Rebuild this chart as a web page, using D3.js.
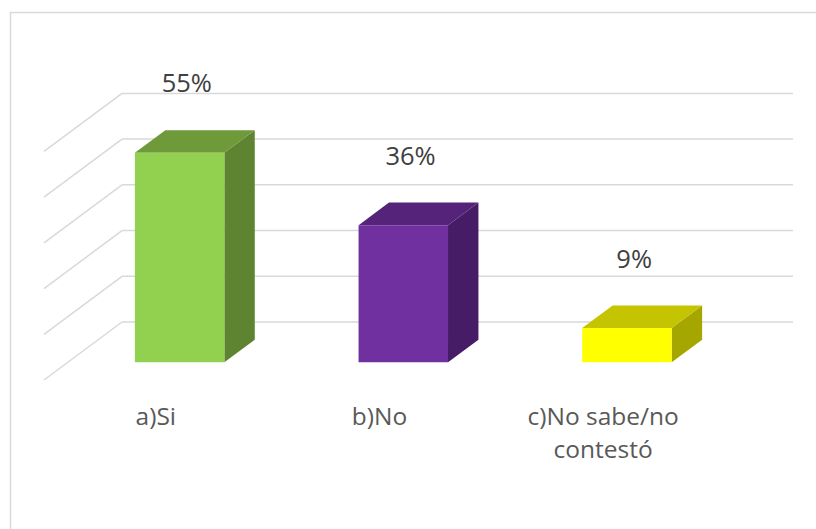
<!DOCTYPE html>
<html>
<head>
<meta charset="utf-8">
<script src="https://cdn.jsdelivr.net/npm/d3@7"></script>
<style>
  html, body { margin: 0; padding: 0; background: #fff; }
  svg { display: block; font-family: "Open Sans", "Noto Sans", sans-serif; }
</style>
</head>
<body>
<svg id="chart" width="816" height="529"></svg>
<script>
const CATEGORIES = ["a)Si", "b)No", "c)No sabe/no contestó"];
const VALUES = [0.55, 0.36, 0.09];
const GRID_TICKS = [0, 0.12, 0.24, 0.36, 0.48, 0.6];

const FRONT_COLORS = ["#92d050", "#7030a0", "#ffff00"];
const TOP_COLORS = ["#6e9a3a", "#55237a", "#c4c400"];
const SIDE_COLORS = ["#5e8431", "#471c66", "#a6a600"];

const svg = d3.select("#chart");

// oblique 3d frame: front-left corner of the floor and the depth vector
const floorX = 44;
const floorY = 380;
const floorWidth = 671;
const depth = { x: 78, y: -58 };
const barFront = 0.305;
const barDepth = 0.39;

const x = d3.scaleBand().domain(CATEGORIES).range([0, floorWidth]).paddingInner(0.6).paddingOuter(0.3);
const h = d3.scaleLinear().domain([0, 0.6]).range([0, 228.6]);
const fmt = d3.format(".0%");

// project (x along floor, value, depth fraction) to screen
function pt(px, v, d) {
  return [floorX + px + d * depth.x, floorY - h(v) + d * depth.y];
}

// chart border (right and bottom fall outside the picture)
svg.append("rect")
  .attr("x", 10.5).attr("y", 12.5)
  .attr("width", 900).attr("height", 600)
  .attr("fill", "none").attr("stroke", "#d9d9d9").attr("stroke-width", 1.5);

const grid = svg.append("g").attr("stroke", "#d9d9d9").attr("stroke-width", 1.5).attr("fill", "none");
GRID_TICKS.forEach((t) => {
  grid.append("line")
    .attr("x1", pt(0, t, 0)[0]).attr("y1", pt(0, t, 0)[1])
    .attr("x2", pt(0, t, 1)[0]).attr("y2", pt(0, t, 1)[1]);
  grid.append("line")
    .attr("x1", pt(0, t, 1)[0]).attr("y1", pt(0, t, 1)[1])
    .attr("x2", pt(floorWidth, t, 1)[0]).attr("y2", pt(floorWidth, t, 1)[1]);
});

const poly = (pts) => pts.map((p) => p.join(",")).join(" ");

const bars = svg.append("g");
CATEGORIES.forEach((c, i) => {
  const x0 = x(c);
  const x1 = x0 + x.bandwidth();
  const v = VALUES[i];
  const d0 = barFront;
  const d1 = barFront + barDepth;
  const g = bars.append("g");
  // right side
  g.append("polygon")
    .attr("points", poly([pt(x1, 0, d0), pt(x1, 0, d1), pt(x1, v, d1), pt(x1, v, d0)]))
    .attr("fill", SIDE_COLORS[i]);
  // top
  g.append("polygon")
    .attr("points", poly([pt(x0, v, d0), pt(x1, v, d0), pt(x1, v, d1), pt(x0, v, d1)]))
    .attr("fill", TOP_COLORS[i]);
  // front
  g.append("polygon")
    .attr("points", poly([pt(x0, 0, d0), pt(x1, 0, d0), pt(x1, v, d0), pt(x0, v, d0)]))
    .attr("fill", FRONT_COLORS[i]);

  const top = pt(x0 + x.bandwidth() / 2, v, d0 + barDepth / 2);
  svg.append("text")
    .attr("x", top[0] - 8)
    .attr("y", top[1] - 49)
    .attr("text-anchor", "middle")
    .attr("font-size", 25.5)
    .attr("fill", "#404040")
    .text(fmt(v));
});

// category labels under the front edge of the floor, wrapped to the band
const catG = svg.append("g");
CATEGORIES.forEach((c) => {
  const cx = floorX + x(c) + x.bandwidth() / 2;
  const text = catG.append("text")
    .attr("x", cx)
    .attr("y", 425)
    .attr("text-anchor", "middle")
    .attr("font-size", 24.5)
    .attr("fill", "#595959");
  const words = c.split(" ");
  let line = [];
  let tspan = text.append("tspan").attr("x", cx).attr("dy", 0);
  words.forEach((w) => {
    line.push(w);
    tspan.text(line.join(" "));
    if (tspan.node().getComputedTextLength() > x.step() * 0.8 && line.length > 1) {
      line.pop();
      tspan.text(line.join(" "));
      line = [w];
      tspan = text.append("tspan").attr("x", cx).attr("dy", 33).text(w);
    }
  });
});
</script>
</body>
</html>
